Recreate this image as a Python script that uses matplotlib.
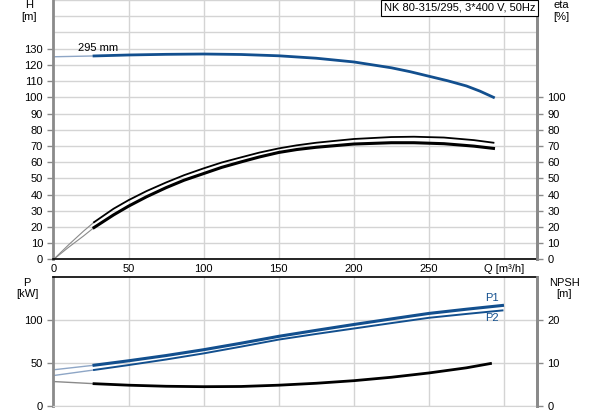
"""
Curva de bomba NK 80-315/295: altura, rendimiento, potencia y NPSH.
"""

import matplotlib.pyplot as plt
from matplotlib.ticker import MultipleLocator

plt.rcParams["font.family"] = ["Liberation Sans", "DejaVu Sans"]
plt.rcParams["font.size"] = 8

AZUL = "#124f8e"
AZUL_CLARO = "#8ea6c6"
GRIS = "#8a8a8a"
GRILLA = "#d4d4d4"

# Caudal donde empieza el tramo "válido" (trazo grueso)
Q_INICIO = 27

# Altura H [m]
q_h = [0, 27, 50, 75, 100, 125, 150, 175, 200, 225, 237.5, 250, 262.5, 275, 284, 293]
h = [125, 125.5, 126.1, 126.5, 126.7, 126.4, 125.6, 124.1, 121.8, 118.2, 115.8,
     113.0, 110.2, 107.0, 103.8, 100.0]

# Rendimientos [%]
q_eta = [0, 10, 20, 27, 40, 50, 62, 75, 87, 100, 112, 125, 137, 150, 162, 175,
         200, 225, 240, 260, 280, 293]
eta_sup = [0, 9, 17.5, 23, 31.3, 36.6, 42.2, 47.5, 52.0, 56.2, 59.8, 63.0, 65.9,
           68.5, 70.4, 72.0, 74.3, 75.5, 75.7, 75.2, 73.6, 72.0]
eta_inf = [0, 7.5, 14.5, 19.7, 27.5, 32.9, 38.7, 44.3, 48.9, 53.0, 56.8, 60.2, 63.2,
           66.0, 67.8, 69.2, 71.2, 72.0, 72.0, 71.4, 69.9, 68.5]

# Potencias P1 / P2 [kW]
q_p = [0, 27, 50, 75, 100, 125, 150, 175, 200, 225, 250, 275, 299]
p1 = [42.2, 47.5, 52.7, 58.8, 65.6, 73.2, 81.2, 88.2, 95.0, 101.5, 107.9, 112.8, 117.2]
p2 = [35.5, 42.0, 47.7, 54.2, 61.3, 69.2, 77.4, 84.0, 90.3, 96.6, 102.8, 107.3, 111.4]

# NPSH [m]
q_npsh = [0, 27, 50, 75, 100, 125, 150, 175, 200, 225, 250, 275, 291]
npsh = [5.7, 5.2, 4.85, 4.6, 4.5, 4.55, 4.85, 5.3, 5.9, 6.7, 7.7, 8.9, 9.9]

x_ticks = [0, 50, 100, 150, 200, 250, 300]
x_labels = ["0", "50", "100", "150", "200", "250", "Q [m\u00b3/h]"]


def partir(q, v):
    """Separa la curva en tramo inicial (fino) y tramo principal (grueso)."""
    i = next(k for k, qq in enumerate(q) if qq >= Q_INICIO)
    return (q[: i + 1], v[: i + 1]), (q[i:], v[i:])


def estilo_ejes(ax):
    for lado in ("left", "right"):
        ax.spines[lado].set_color(GRIS)
        ax.spines[lado].set_linewidth(2)
    ax.tick_params(axis="y", colors=GRIS, labelcolor="black", length=4, width=1)
    ax.grid(True, which="both", color=GRILLA, linewidth=1)
    ax.set_axisbelow(True)


fig = plt.figure(figsize=(5.93, 4.15), dpi=100)
ax_h = fig.add_axes([0.0902, 0.3747, 0.8154, 0.6253])
ax_p = fig.add_axes([0.0902, 0.0217, 0.8154, 0.3101])

# ---- Panel superior: H y eta
ax_h.set_xlim(0, 322)
ax_h.set_ylim(0, 160)
ax_h.set_yticks(range(0, 131, 10))
ax_h.yaxis.set_minor_locator(MultipleLocator(10))
ax_h.tick_params(axis="y", which="minor", length=0)
ax_h.set_xticks(x_ticks)
ax_h.set_xticklabels(x_labels)
ax_h.tick_params(axis="x", length=0, pad=3)
estilo_ejes(ax_h)
ax_h.spines["top"].set_visible(False)
ax_h.spines["bottom"].set_color("black")
ax_h.spines["bottom"].set_linewidth(1.2)

(a, b) = partir(q_h, h)
ax_h.plot(*a, color=AZUL_CLARO, lw=1)
ax_h.plot(*b, color=AZUL, lw=2)
ax_h.text(16, 127.3, "295 mm", fontsize=8, va="bottom")

for serie, grosor in ((eta_sup, 1.3), (eta_inf, 2.2)):
    (a, b) = partir(q_eta, serie)
    ax_h.plot(*a, color=GRIS, lw=0.8)
    ax_h.plot(*b, color="black", lw=grosor)

ax_eta = ax_h.twinx()
ax_eta.set_ylim(0, 160)
ax_eta.set_yticks(range(0, 101, 10))
ax_eta.spines["right"].set_color(GRIS)
ax_eta.spines["right"].set_linewidth(2)
ax_eta.spines["top"].set_visible(False)
ax_eta.spines["left"].set_visible(False)
ax_eta.spines["bottom"].set_visible(False)
ax_eta.tick_params(axis="y", colors=GRIS, labelcolor="black", length=4, width=1)

# ---- Panel inferior: P y NPSH
ax_p.set_xlim(0, 322)
ax_p.set_ylim(0, 150)
ax_p.set_yticks([0, 50, 100])
ax_p.set_xticks(x_ticks)
ax_p.tick_params(axis="x", length=0, labelbottom=False)
estilo_ejes(ax_p)
ax_p.spines["top"].set_color("black")
ax_p.spines["top"].set_linewidth(1.2)
ax_p.spines["bottom"].set_color(GRILLA)

for serie, grosor in ((p1, 2.2), (p2, 1.4)):
    (a, b) = partir(q_p, serie)
    ax_p.plot(*a, color=AZUL_CLARO, lw=1)
    ax_p.plot(*b, color=AZUL, lw=grosor)
ax_p.text(292, 125.4, "P1", color=AZUL, fontsize=8, ha="center", va="center")
ax_p.text(292, 102.3, "P2", color=AZUL, fontsize=8, ha="center", va="center")

ax_npsh = ax_p.twinx()
ax_npsh.set_ylim(0, 30)
ax_npsh.set_yticks([0, 10, 20])
ax_npsh.spines["right"].set_color(GRIS)
ax_npsh.spines["right"].set_linewidth(2)
for lado in ("top", "left", "bottom"):
    ax_npsh.spines[lado].set_visible(False)
ax_npsh.tick_params(axis="y", colors=GRIS, labelcolor="black", length=4, width=1)

(a, b) = partir(q_npsh, npsh)
ax_npsh.plot(*a, color=GRIS, lw=1)
ax_npsh.plot(*b, color="black", lw=2)

# ---- Etiquetas de unidades y título
etiquetas = [
    (29, 5, "H"), (29, 17, "[m]"),
    (561, 5, "eta"), (561, 17, "[%]"),
    (27, 283, "P"), (27, 294, "[kW]"),
    (564, 283, "NPSH"), (564, 294, "[m]"),
]
for x, y, txt in etiquetas:
    fig.text(x / 593, 1 - y / 415, txt, ha="center", va="center", fontsize=8)

fig.text(535 / 593, 1 - 8 / 415, "NK 80-315/295, 3*400 V, 50Hz", ha="right", va="center",
         fontsize=8, bbox=dict(boxstyle="square,pad=0.25", fc="white", ec="black", lw=0.8))

fig.savefig("out.png", dpi=100)
